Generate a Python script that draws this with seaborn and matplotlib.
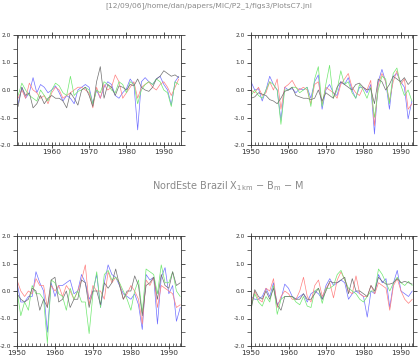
import matplotlib
matplotlib.use("Agg")
import matplotlib.pyplot as plt
import seaborn as sns
import numpy as np
import pandas as pd
from matplotlib.ticker import MultipleLocator, FormatStrFormatter

sns.set_style("white")
plt.rcParams["font.family"] = ["DejaVu Sans"]

# --------------------------------------------------
# data (one value per year)
# --------------------------------------------------

years_tl = list(range(1951, 1995))
years_other = list(range(1950, 1994))

tl_blue = [-0.5, 0.1, -0.3, -0.1, 0.45, -0.1, 0.2, 0.1, -0.1, 0.0,
           0.15, -0.1, -0.4, -0.2, -0.3, -0.5, 0.0, 0.1, 0.2, 0.1,
           -0.5, 0.0, -0.3, 0.1, 0.3, 0.2, -0.2, -0.3, -0.1, 0.05,
           0.4, 0.2, -1.45, 0.3, 0.45, 0.3, 0.2, 0.4, 0.5, 0.2,
           0.0, -0.55, 0.3, 0.5]
tl_red = [-0.3, 0.0, -0.3, 0.25, 0.0, -0.1, -0.3, -0.2, -0.5, -0.1,
          0.1, 0.0, -0.3, -0.2, -0.1, 0.0, 0.1, 0.1, 0.0, -0.1,
          -0.65, 0.1, -0.3, 0.2, 0.0, 0.1, 0.55, 0.3, -0.3, -0.1,
          0.1, 0.3, -0.3, 0.1, 0.2, 0.3, 0.1, 0.0, 0.2, 0.3,
          0.1, -0.2, 0.1, 0.4]
tl_green = [-0.2, 0.25, 0.0, -0.2, -0.3, -0.4, 0.0, -0.2, -0.4, 0.0,
            0.25, 0.15, -0.1, -0.2, 0.5, -0.2, -0.05, 0.0, 0.1, 0.0,
            -0.5, 0.0, -0.1, 0.3, 0.2, 0.0, -0.1, 0.3, 0.2, -0.1,
            0.3, 0.2, -0.5, 0.0, 0.2, 0.3, 0.2, 0.4, 0.3, 0.0,
            -0.1, -0.6, 0.3, 0.2]
tl_gray = [-0.6, 0.1, -0.2, -0.1, -0.65, -0.5, -0.2, -0.5, -0.3, -0.2,
           -0.3, -0.3, -0.4, -0.65, -0.1, -0.3, -0.55, 0.0, 0.1, -0.2,
           -0.6, 0.3, 0.85, -0.3, 0.2, 0.1, -0.2, 0.15, 0.1, 0.0,
           0.2, 0.15, 0.4, 0.1, 0.0, -0.05, 0.1, 0.4, 0.5, 0.7,
           0.6, 0.5, 0.55, 0.45]

tr_blue = [0.3, 0.0, 0.05, -0.4, 0.0, 0.5, 0.2, 0.0, -1.1, 0.1,
           0.0, 0.05, -0.1, 0.05, 0.0, 0.1, -0.3, 0.3, 0.55, -0.7,
           0.0, 0.2, -0.1, -0.2, 0.3, 0.2, 0.45, 0.0, -0.3, 0.1,
           0.1, -0.1, 0.2, -1.6, 0.3, 0.75, 0.3, -0.7, 0.5, 0.6,
           0.3, 0.1, -1.05, -0.4]
tr_red = [0.0, -0.1, 0.1, -0.2, -0.1, 0.3, 0.0, 0.4, -0.7, 0.1,
          0.2, 0.35, 0.1, 0.0, 0.1, 0.0, -0.5, 0.2, 0.3, -0.5,
          0.1, 0.0, -0.1, -0.3, 0.2, 0.4, 0.6, 0.1, -0.1, -0.2,
          0.1, 0.0, 0.35, -1.3, 0.2, 0.6, 0.3, -0.4, 0.3, 0.7,
          0.2, 0.4, -0.7, -0.5]
tr_green = [-0.2, 0.0, -0.2, -0.3, 0.0, 0.3, 0.2, 0.0, -1.25, 0.0,
            0.0, 0.1, 0.1, -0.1, 0.0, 0.1, -0.6, 0.4, 0.85, -0.6,
            0.2, 0.9, -0.3, 0.0, 0.7, 0.2, 0.3, -0.1, -0.3, 0.2,
            0.0, -0.3, 0.1, -1.0, 0.0, 0.5, 0.4, -0.5, 0.6, 0.8,
            0.2, -0.2, 0.0, -0.4]
tr_gray = [-0.3, -0.25, -0.1, -0.15, -0.2, -0.35, -0.4, -0.5, -0.3, -0.05,
           0.0, 0.1, -0.2, -0.25, -0.3, -0.3, -0.35, -0.3, 0.0, -0.4,
           -0.1, -0.2, -0.3, 0.1, 0.3, 0.2, 0.1, 0.0, 0.2, 0.25,
           0.1, 0.0, 0.05, -0.5, 0.4, 0.3, 0.0, 0.2, 0.5, 0.4,
           0.3, 0.45, 0.2, 0.35]

bl_blue = [0.3, -0.4, -0.4, -0.2, -0.2, 0.7, 0.3, 0.0, -1.5, 0.3,
           -0.2, 0.2, 0.2, 0.3, 0.4, -0.1, 0.0, 0.6, 0.3, -0.3,
           0.0, 0.6, -0.6, 0.3, 0.95, 0.6, 0.5, 0.2, -0.1, -0.2,
           -0.3, -0.1, -0.5, -1.4, 0.6, 0.4, 0.5, -1.2, 0.5, 0.85,
           -0.1, 0.2, -1.1, -0.6]
bl_red = [0.4, 0.0, -0.2, 0.0, -0.1, 0.45, 0.2, 0.2, -0.6, 0.2,
          0.0, 0.2, -0.2, 0.2, 0.0, -0.3, 0.0, 0.4, 0.95, -0.5,
          0.2, 0.0, 0.0, -0.3, 0.7, 0.3, 0.5, 0.3, -0.3, -0.1,
          0.2, 0.0, -0.3, -1.2, 0.4, 0.2, 0.5, -0.6, 0.2, 0.1,
          0.0, -0.1, -0.6, -0.5]
bl_green = [0.0, -0.9, -0.4, -0.7, 0.2, -0.1, -0.1, -0.3, -1.9, 0.4,
            0.3, -0.1, -0.2, -0.7, 0.1, -0.3, 0.0, -0.4, -0.4, -1.55,
            -0.1, 0.7, -0.6, 0.6, 0.75, 0.4, 0.5, 0.3, 0.0, -0.3,
            -0.7, 0.0, 0.4, -0.8, 0.8, 0.7, 0.6, -0.1, 0.95, 0.3,
            0.3, 0.7, 0.0, -0.2]
bl_gray = [-0.1, -0.3, -0.4, -0.3, 0.1, 0.0, -0.7, -0.3, -0.6, 0.4,
           0.5, -0.4, -0.3, 0.0, -0.6, -0.3, -0.3, 0.4, 0.3, -0.6,
           0.0, 0.0, -0.5, 0.3, 0.1, 0.3, 0.8, 0.2, -0.3, 0.0,
           0.0, 0.55, 0.2, -0.9, 0.2, 0.3, 0.5, -0.3, 0.6, 0.2,
           0.1, 0.7, 0.2, 0.3]

br_blue = [-0.2, -0.3, -0.3, -0.2, 0.1, -0.2, 0.3, -0.5, -0.3, 0.25,
           0.1, -0.2, -0.3, -0.2, -0.1, -0.4, -0.1, 0.0, -0.1, -0.3,
           0.2, 0.45, 0.2, 0.3, 0.4, 0.3, -0.3, -0.1, 0.0, -0.1,
           -0.2, -0.95, 0.0, -0.1, 0.6, 0.3, 0.45, -0.6, 0.3, 0.75,
           0.0, -0.1, -0.2, 0.0]
br_red = [-0.5, 0.0, -0.3, -0.4, 0.1, 0.0, 0.45, -0.6, -0.2, 0.0,
          -0.1, -0.3, -0.3, 0.0, 0.5, -0.2, -0.4, 0.2, 0.4, -0.2,
          0.1, 0.3, -0.25, 0.4, 0.7, 0.4, 0.0, -0.1, 0.55, -0.1,
          -0.2, -0.2, 0.2, -0.1, 0.3, 0.2, 0.1, -0.7, 0.2, 0.45,
          0.0, -0.3, -0.45, -0.3]
br_green = [-0.6, -0.1, -0.4, -0.55, -0.2, -0.4, 0.2, -0.85, -0.3, -0.2,
            -0.2, -0.2, -0.4, -0.5, -0.2, -0.55, -0.6, 0.0, 0.1, -0.45,
            0.1, 0.1, 0.2, 0.6, 0.75, 0.4, 0.1, 0.0, -0.1, -0.3,
            -0.4, -0.2, 0.0, 0.0, 0.8, 0.6, 0.3, 0.0, 0.3, 0.5,
            0.3, 0.2, 0.35, 0.2]
br_gray = [-0.7, 0.05, -0.2, -0.3, 0.0, -0.3, 0.1, -0.5, -0.7, -0.2,
           -0.2, -0.2, -0.3, -0.3, -0.1, -0.3, -0.3, -0.1, 0.1, -0.3,
           0.0, 0.35, 0.3, 0.3, 0.4, 0.5, -0.1, 0.45, 0.0, 0.0,
           -0.1, -0.2, 0.2, 0.0, 0.5, 0.35, 0.25, 0.25, 0.3, 0.45,
           0.3, 0.35, 0.3, 0.25]

series_names = ["blue", "red", "green", "gray"]
palette = {"blue": "#7070ff", "red": "#ff8080", "green": "#70e870", "gray": "#707070"}

title_text = "[12/09/06]/home/dan/papers/MIC/P2_1/figs3/PlotsC7.jnl"
mid_text = r"NordEste Brazil X$_{\rm 1km}$ $-$ B$_{\rm m}$ $-$ M"


def long_frame(years, cols):
    rows = []
    for name, vals in zip(series_names, cols):
        for y, v in zip(years, vals):
            rows.append({"year": y, "value": v, "series": name})
    return pd.DataFrame(rows)


panels = [
    # (years, columns, rect in pixels: left, top, right, bottom, xlim)
    (years_tl, [tl_blue, tl_red, tl_green, tl_gray], (17, 35, 181, 145), (1950.7, 1994.6)),
    (years_other, [tr_blue, tr_red, tr_green, tr_gray], (251, 35, 413, 145), (1950, 1993.3)),
    (years_other, [bl_blue, bl_red, bl_green, bl_gray], (17, 236, 181, 346), (1950, 1993.2)),
    (years_other, [br_blue, br_red, br_green, br_gray], (251, 236, 413, 346), (1950, 1993.2)),
]

W, H = 418, 360
fig = plt.figure(figsize=(W / 100, H / 100), dpi=100)

for years, cols, (l, t, r, b), xlim in panels:
    ax = fig.add_axes([l / W, 1 - b / H, (r - l) / W, (b - t) / H])
    df = long_frame(years, cols)
    sns.lineplot(data=df, x="year", y="value", hue="series", palette=palette,
                 legend=False, linewidth=0.5, ax=ax)
    ax.set_xlim(*xlim)
    ax.set_ylim(-2.0, 2.0)
    ax.set_xlabel("")
    ax.set_ylabel("")

    ax.xaxis.set_major_locator(MultipleLocator(10))
    ax.xaxis.set_minor_locator(MultipleLocator(1))
    ax.yaxis.set_major_locator(MultipleLocator(1.0))
    ax.yaxis.set_minor_locator(MultipleLocator(0.5))
    ax.yaxis.set_major_formatter(FormatStrFormatter("%.1f"))

    ax.tick_params(axis="x", which="major", direction="inout", length=4, width=0.6,
                   top=True, bottom=True, labelsize=5.4, pad=1, colors="#333333")
    ax.tick_params(axis="x", which="minor", direction="in", length=2, width=0.5,
                   top=True, bottom=True, colors="#333333")
    ax.tick_params(axis="y", which="major", direction="out", length=3, width=0.6,
                   left=True, right=True, labelsize=4.2, pad=1.5, colors="#333333")
    ax.tick_params(axis="y", which="minor", direction="out", length=3, width=0.5,
                   left=True, right=True, colors="#333333")
    for sp in ax.spines.values():
        sp.set_linewidth(0.6)
        sp.set_color("#333333")

fig.text(209 / W, 1 - 6 / H, title_text, ha="center", va="center",
         fontsize=5.4, color="#8a8a8a")
fig.text(228 / W, 1 - 186 / H, mid_text, ha="center", va="center",
         fontsize=7, color="#8a8a8a")

fig.savefig("out.png", dpi=100)
